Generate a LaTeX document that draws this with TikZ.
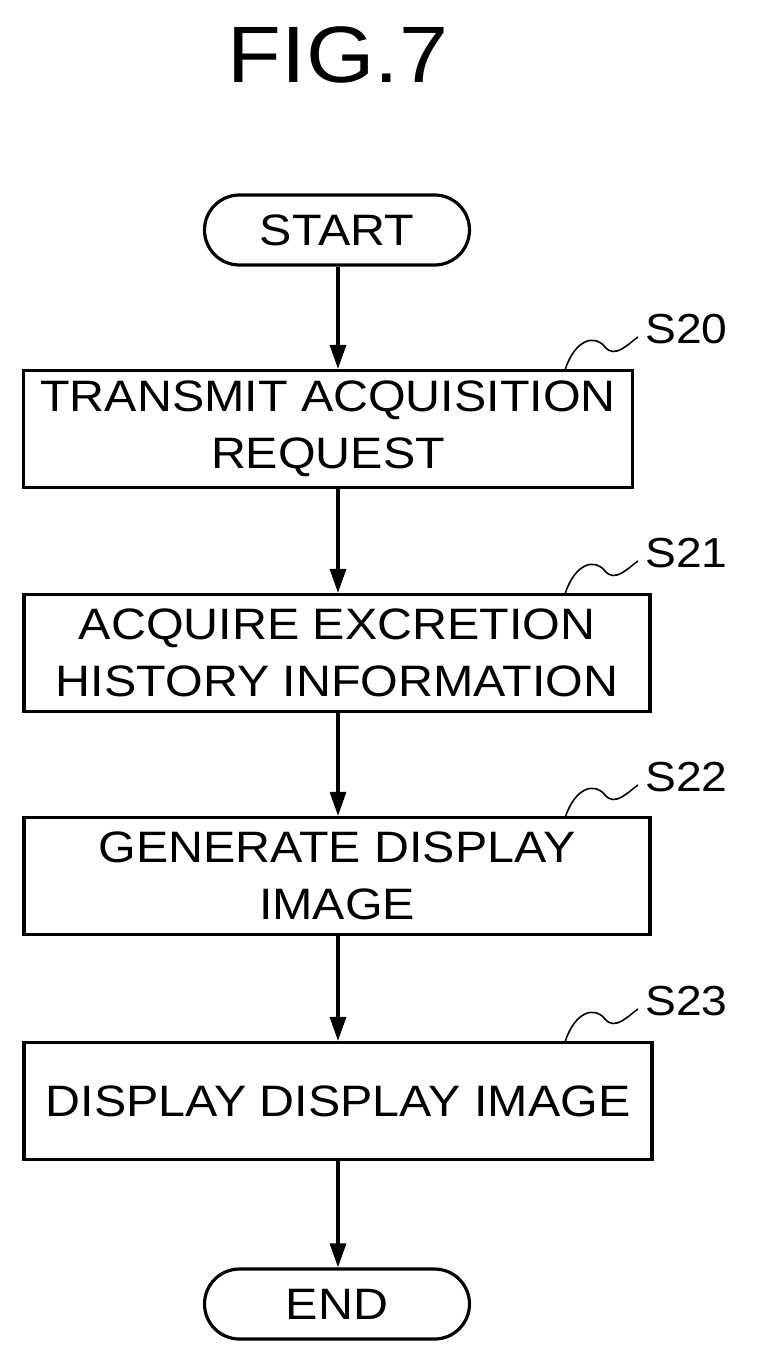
\documentclass[tikz,border=0pt]{standalone}
\usepackage{fontspec}
\setmainfont{Liberation Sans}[FakeStretch=1.1]
\usetikzlibrary{arrows.meta}
\begin{document}
\begin{tikzpicture}[x=1pt,y=-1pt,
  every node/.style={font=\fontsize{44}{57}\selectfont, align=center, inner sep=0},
  proc/.style={draw, line width=3.2pt, minimum height=117pt},
  term/.style={draw, line width=3.2pt, rounded corners=35pt, minimum width=265pt, minimum height=70pt},
  flow/.style={line width=3.2pt, -{Triangle[length=24pt,width=16pt]}},
  lead/.style={line width=1.6pt},
  lab/.style={font=\fontsize{42}{42}\selectfont, anchor=west}]
\useasboundingbox (0,0) rectangle (768,1364);
\node[font=\fontsize{80}{80}\selectfont] (title) at (338,55) {FIG.7};
\node[term] (start) at (337,230) {START};
\node[proc, minimum width=609pt] (s20) at (328,429) {TRANSMIT ACQUISITION\\REQUEST};
\node[proc, minimum width=626pt] (s21) at (337,653) {ACQUIRE EXCRETION\\HISTORY INFORMATION};
\node[proc, minimum width=626pt] (s22) at (337,876) {GENERATE DISPLAY\\IMAGE};
\node[proc, minimum width=628pt] (s23) at (338,1101) {DISPLAY DISPLAY IMAGE};
\node[term] (end) at (337,1304) {END};
\foreach \a/\b in {start/s20,s20/s21,s21/s22,s22/s23,s23/end}
  \draw[flow] (\a.south -| 338,0) -- (\b.north -| 338,0);
\foreach \n/\t/\y in {s20/S20/329,s21/S21/553,s22/S22/777,s23/S23/1001}{
  \coordinate (c\n) at (565,\y+41);
  \coordinate (e\n) at (638,\y+8);
  \draw[lead] (c\n) .. controls (575,\y+10) and (595,\y+5) .. (605,\y+18) .. controls (615,\y+30) and (628,\y+15) .. (e\n);
  \node[lab] (l\n) at (645,\y) {\t};
}
\end{tikzpicture}
\end{document}
